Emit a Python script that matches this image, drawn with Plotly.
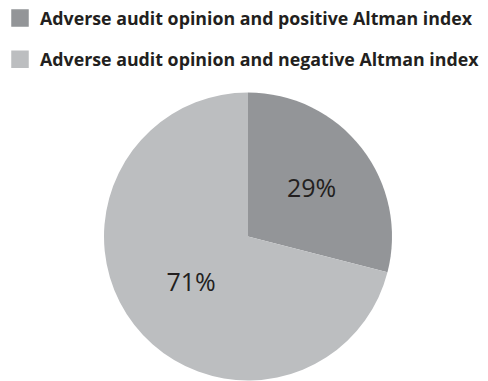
import plotly.graph_objects as go

labels = ["Adverse audit opinion and positive Altman index",
          "Adverse audit opinion and negative Altman index"]
values = [29, 71]
colors = ["#939598", "#bcbec0"]

fig = go.Figure()
fig.add_trace(go.Pie(
    labels=labels, values=values, sort=False, direction="clockwise", rotation=0,
    marker=dict(colors=colors, line=dict(width=0)),
    texttemplate="%{percent:.0%}", textposition="inside", insidetextorientation="horizontal",
    textfont=dict(family="Open Sans", size=25, color="#231f20"),
    showlegend=False, hoverinfo="label+percent",
    domain=dict(x=[104/488, 392/488], y=[0, 1-92/381]),
))
for i, (lab, col) in enumerate(zip(labels, colors)):
    fig.add_trace(go.Scatter(
        x=[None], y=[None], mode="markers", name=lab, legendgroup=f"g{i}",
        marker=dict(symbol="square", size=16, color=col, line=dict(width=1.5, color=col)),
    ))

fig.update_layout(
    width=488, height=381, margin=dict(l=0, r=0, t=0, b=0),
    paper_bgcolor="white", plot_bgcolor="white",
    xaxis=dict(visible=False), yaxis=dict(visible=False),
    legend=dict(x=0, y=1.0, xanchor="left", yanchor="top",
                font=dict(family="Open Sans", size=17.8, color="#231f20", weight="bold"),
                tracegroupgap=15, traceorder="grouped", itemwidth=30,
                bgcolor="rgba(0,0,0,0)"),
)
fig.write_html("out.html")
